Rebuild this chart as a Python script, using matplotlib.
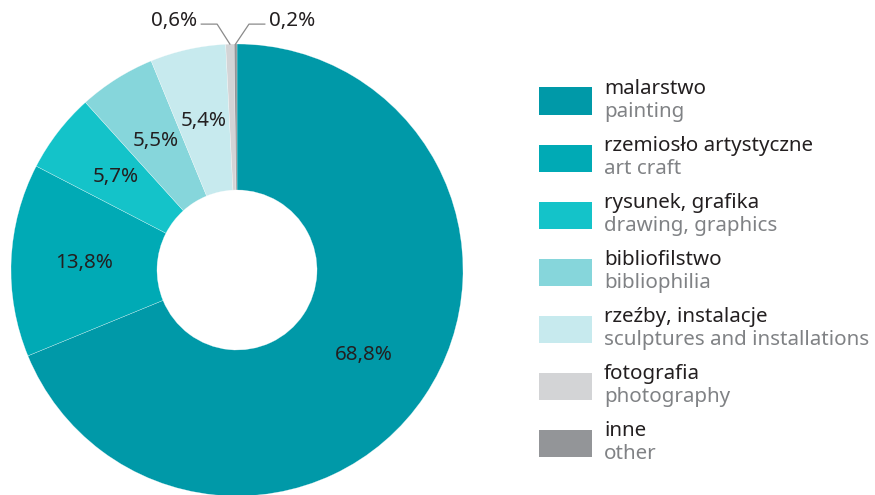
import matplotlib
matplotlib.use("Agg")
from matplotlib import pyplot as plt
from matplotlib.patches import Rectangle
import numpy as np

plt.rcParams['font.family'] = ['Noto Sans', 'DejaVu Sans']

labels_pl = ['malarstwo', 'rzemiosło artystyczne', 'rysunek, grafika', 'bibliofilstwo',
             'rzeźby, instalacje', 'fotografia', 'inne']
labels_en = ['painting', 'art craft', 'drawing, graphics', 'bibliophilia',
             'sculptures and installations', 'photography', 'other']
shares = [68.8, 13.8, 5.7, 5.5, 5.4, 0.6, 0.2]
colors = ['#0099A8', '#00AAB5', '#14C3C9', '#86D6DB', '#C7EAEE', '#D3D4D6', '#939598']

W, H = 875, 495
fig = plt.figure(figsize=(W / 100, H / 100), dpi=100)

# donut: centre (237, 270) px, radius 226 px
cx, cy, R = 237, 270, 226
ax = fig.add_axes([(cx - R) / W, (H - cy - R) / H, 2 * R / W, 2 * R / H])
wedges, _ = ax.pie(shares, colors=colors, startangle=90, counterclock=False, radius=1,
                   wedgeprops=dict(width=1 - 80 / 226, edgecolor=(1, 1, 1, 0.6), linewidth=0.3))
ax.set_xlim(-1, 1)
ax.set_ylim(-1, 1)
ax.set_aspect('equal')
ax.axis('off')
for w in wedges:
    w.set_clip_on(False)

txt_col = '#231F20'
fs = 14.8
r_lab = 0.677
for w, s in zip(wedges, shares):
    mid = np.deg2rad((w.theta1 + w.theta2) / 2)
    lab = f'{s:.1f}%'.replace('.', ',')
    if s >= 1:
        ax.text(r_lab * np.cos(mid), r_lab * np.sin(mid), lab, ha='center', va='center',
                fontsize=fs, color=txt_col)

# leader labels for the two tiny slices
small = [(wedges[5], shares[5], -1, -0.088), (wedges[6], shares[6], 1, 0.053)]
for w, s, side, ex in small:
    mid = np.deg2rad((w.theta1 + w.theta2) / 2)
    x0, y0 = np.cos(mid), np.sin(mid)
    ey = 1.088
    tx = ex + side * 0.07
    ax.plot([x0, ex, tx], [y0, ey, ey], color='#8a8a8a', lw=0.9, clip_on=False)
    ax.text(tx + side * 0.02, ey + 0.012, f'{s:.1f}%'.replace('.', ','),
            ha='right' if side < 0 else 'left', va='center', fontsize=fs, color=txt_col)

# legend
for i, (pl, en, c) in enumerate(zip(labels_pl, labels_en, colors)):
    yc = 101 + 57 * i
    fig.patches.append(Rectangle((539 / W, (H - yc - 13.5) / H), 53 / W, 27 / H,
                                 transform=fig.transFigure, facecolor=c, edgecolor='none'))
    fig.text(604 / W, (H - yc + 12) / H, pl, ha='left', va='center', fontsize=fs,
             color=txt_col)
    fig.text(604 / W, (H - yc - 11) / H, en, ha='left', va='center', fontsize=fs,
             color='#808285')

fig.savefig('out.png', dpi=100)
